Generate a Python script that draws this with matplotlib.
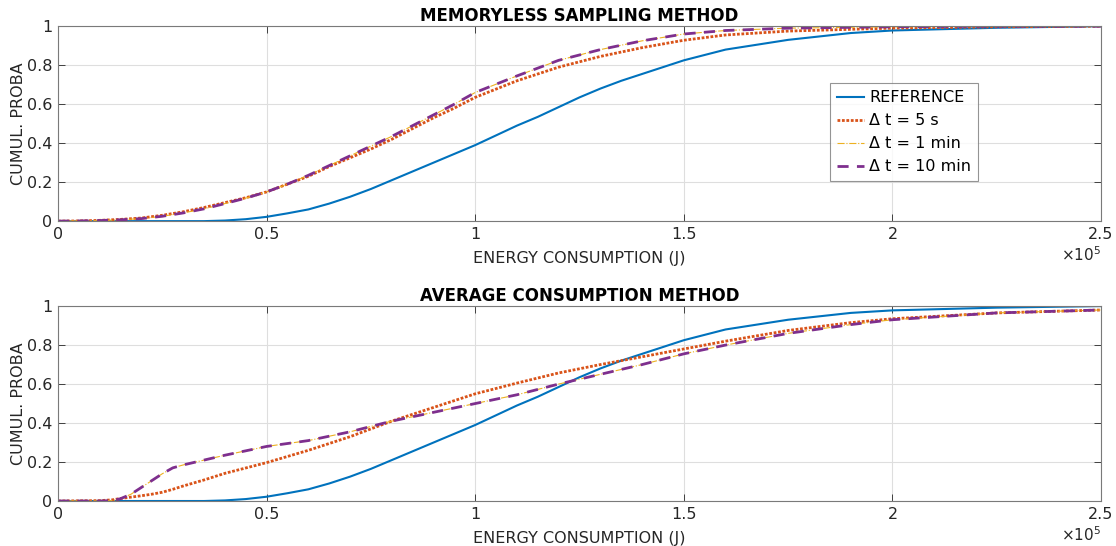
import numpy as np
import matplotlib
matplotlib.use("Agg")
import matplotlib.pyplot as plt

# energy axis (x1e5 J) and CDF values
ref_x = [0, 0.35, 0.4, 0.45, 0.5, 0.55, 0.6, 0.65, 0.7, 0.75, 0.8, 0.85, 0.9, 0.95, 1.0,
         1.05, 1.1, 1.15, 1.2, 1.25, 1.3, 1.35, 1.4, 1.5, 1.6, 1.75, 1.9, 2.0, 2.25, 2.5]
ref_y = [0, 0, 0.003, 0.01, 0.022, 0.04, 0.06, 0.09, 0.125, 0.165, 0.21, 0.255, 0.30, 0.345, 0.39,
         0.44, 0.49, 0.535, 0.585, 0.635, 0.68, 0.72, 0.755, 0.825, 0.88, 0.93, 0.965, 0.978, 0.992, 1.0]

mem_x = [0, 0.05, 0.1, 0.15, 0.2, 0.25, 0.3, 0.35, 0.4, 0.45, 0.5, 0.55, 0.6, 0.65, 0.7, 0.75,
         0.8, 0.85, 0.9, 0.95, 1.0, 1.1, 1.2, 1.3, 1.4, 1.5, 1.6, 1.75, 2.0, 2.25, 2.5]
mem_5s = [0, 0.001, 0.004, 0.009, 0.016, 0.03, 0.048, 0.07, 0.095, 0.12, 0.15, 0.19, 0.23, 0.28, 0.325, 0.37,
          0.42, 0.475, 0.53, 0.58, 0.635, 0.72, 0.79, 0.845, 0.89, 0.928, 0.955, 0.975, 0.99, 0.997, 1.0]
mem_1min = [0, 0.001, 0.003, 0.007, 0.013, 0.025, 0.042, 0.063, 0.09, 0.118, 0.15, 0.19, 0.235, 0.285, 0.335, 0.385,
            0.435, 0.49, 0.545, 0.6, 0.66, 0.745, 0.825, 0.88, 0.925, 0.96, 0.978, 0.99, 0.997, 1.0, 1.0]
mem_10min = [0, 0.001, 0.003, 0.007, 0.013, 0.025, 0.042, 0.063, 0.09, 0.118, 0.15, 0.19, 0.235, 0.285, 0.335, 0.385,
             0.435, 0.49, 0.545, 0.6, 0.66, 0.745, 0.825, 0.88, 0.925, 0.96, 0.978, 0.99, 0.997, 1.0, 1.0]

avg_x = [0, 0.1, 0.13, 0.15, 0.175, 0.2, 0.225, 0.25, 0.275, 0.3, 0.35, 0.4, 0.5, 0.6, 0.7,
         0.8, 0.9, 1.0, 1.1, 1.2, 1.3, 1.4, 1.5, 1.6, 1.75, 1.9, 2.0, 2.25, 2.5]
avg_5s = [0, 0.002, 0.006, 0.013, 0.02, 0.027, 0.035, 0.045, 0.06, 0.077, 0.108, 0.142, 0.197, 0.26, 0.33,
          0.41, 0.48, 0.55, 0.605, 0.657, 0.70, 0.74, 0.78, 0.82, 0.875, 0.915, 0.935, 0.965, 0.98]
avg_1min = [0, 0, 0.002, 0.012, 0.035, 0.07, 0.105, 0.14, 0.17, 0.185, 0.21, 0.235, 0.28, 0.31, 0.355,
            0.41, 0.455, 0.50, 0.545, 0.60, 0.65, 0.70, 0.755, 0.80, 0.86, 0.905, 0.93, 0.965, 0.98]
avg_10min = [0, 0, 0.002, 0.012, 0.035, 0.07, 0.105, 0.14, 0.17, 0.185, 0.21, 0.235, 0.28, 0.31, 0.355,
             0.41, 0.455, 0.50, 0.545, 0.60, 0.65, 0.70, 0.755, 0.80, 0.86, 0.905, 0.93, 0.965, 0.98]

labels = ["REFERENCE", "Δ t = 5 s", "Δ t = 1 min", "Δ t = 10 min"]
titles = ["MEMORYLESS SAMPLING METHOD", "AVERAGE CONSUMPTION METHOD"]

plt.rcParams['font.family'] = ['DejaVu Sans']
fig = plt.figure(figsize=(11.16, 5.46), dpi=100)
ax1 = fig.add_axes([0.052, 0.595, 0.9346, 0.357])
ax2 = fig.add_axes([0.052, 0.0824, 0.9346, 0.357])

panels = [(ax1, mem_x, mem_5s, mem_1min, mem_10min), (ax2, avg_x, avg_5s, avg_1min, avg_10min)]
for i, (ax, x, s5, m1, m10) in enumerate(panels):
    ax.plot(np.array(ref_x) * 1e5, ref_y, color='#0072BD', lw=1.5, label=labels[0])
    ax.plot(np.array(x) * 1e5, s5, color='#D95319', lw=2, ls=(0, (1, 0.6)), label=labels[1])
    ax.plot(np.array(x) * 1e5, m1, color='#EDB120', lw=0.8, ls='-.', label=labels[2])
    ax.plot(np.array(x) * 1e5, m10, color='#7E2F8E', lw=2, ls=(0, (4, 3)), label=labels[3])
    ax.set_xlim(0, 2.5e5)
    ax.set_ylim(0, 1)
    ax.set_xticks(np.arange(0, 2.51e5, 0.5e5))
    ax.set_xticklabels(['0', '0.5', '1', '1.5', '2', '2.5'])
    ax.set_yticks([0, 0.2, 0.4, 0.6, 0.8, 1])
    ax.set_yticklabels(['0', '0.2', '0.4', '0.6', '0.8', '1'])
    ax.grid(True, color='#dedede', lw=0.8)
    ax.set_axisbelow(True)
    ax.tick_params(direction='in', top=True, right=True, labelsize=11.5, colors='#262626',
                   length=5, width=0.6, pad=4)
    for sp in ax.spines.values():
        sp.set_color('#7a7a7a')
        sp.set_linewidth(0.8)
    ax.set_title(titles[i], fontsize=12, fontweight='bold', pad=4)
    ax.set_xlabel("ENERGY CONSUMPTION (J)", fontsize=11.5, color='#262626', labelpad=7)
    ax.set_ylabel("CUMUL. PROBA", fontsize=11.5, color='#262626', labelpad=1)
    ax.text(1.0, -0.125, r"$\times 10^5$", transform=ax.transAxes, ha='right', va='top',
            fontsize=11, color='#262626')

leg = ax1.legend(loc='upper left', bbox_to_anchor=(0.740, 0.708), borderaxespad=0, fontsize=11.5,
                 frameon=True, fancybox=False, edgecolor='#7a7a7a', handlelength=1.7, borderpad=0.45,
                 labelspacing=0.5, handletextpad=0.3)
leg.get_frame().set_linewidth(0.8)

fig.savefig("out.png", dpi=100)
